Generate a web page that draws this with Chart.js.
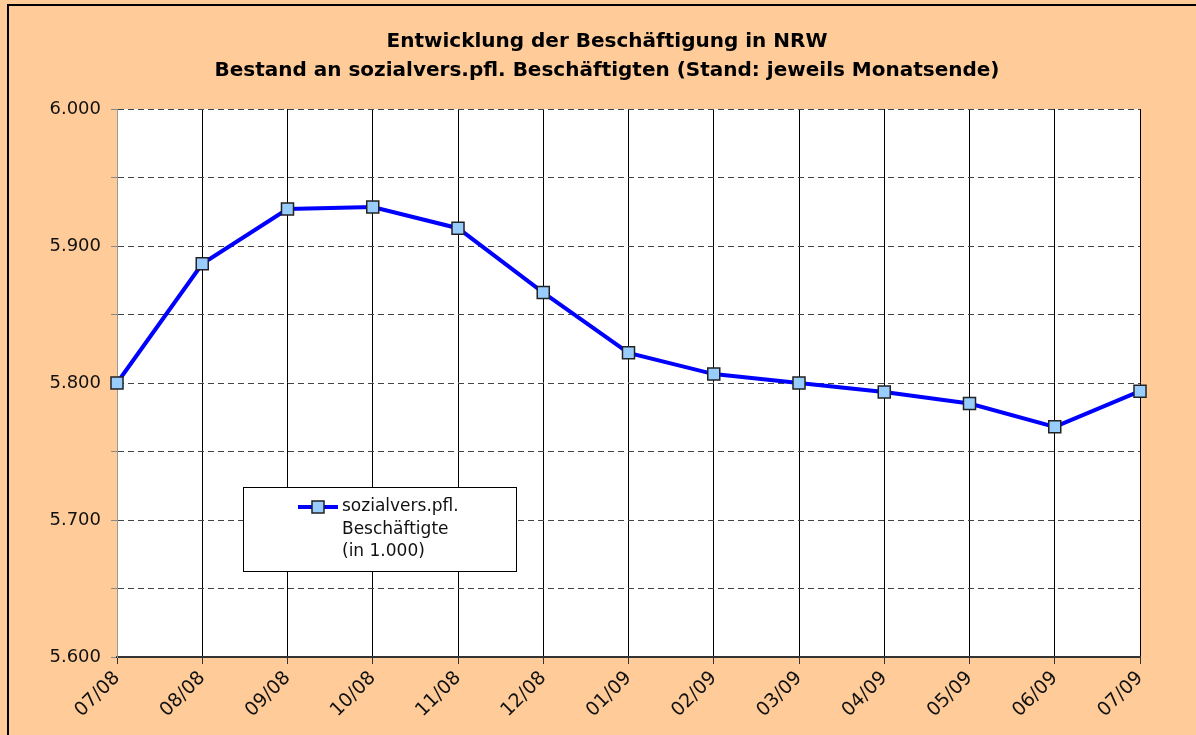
<!DOCTYPE html>
<html>
<head>
<meta charset="utf-8">
<script src="https://cdn.jsdelivr.net/npm/chart.js@4"></script>
<style>
  html, body { margin: 0; padding: 0; background: #FFCC99; }
  #wrap { width: 1196px; height: 735px; }
</style>
</head>
<body>
<div id="wrap"><canvas id="chart" width="1196" height="735"></canvas></div>
<script>
// Monate (Stand jeweils Monatsende)
const monate = ["07/08", "08/08", "09/08", "10/08", "11/08", "12/08", "01/09", "02/09", "03/09", "04/09", "05/09", "06/09", "07/09"];
// sozialvers.pfl. Beschäftigte in 1.000
const beschaeftigte = [5800, 5887, 5927, 5928.5, 5913, 5866, 5822, 5806.5, 5800, 5793.5, 5785, 5768, 5794];
const titelZeilen = ["Entwicklung der Beschäftigung in NRW", "Bestand an sozialvers.pfl. Beschäftigten (Stand: jeweils Monatsende)"];
const legendeZeilen = ["sozialvers.pfl.", "Beschäftigte", "(in 1.000)"];

const schrift = "'DejaVu Sans', sans-serif";

// Hintergrund + Rahmen
const hintergrund = {
    id: 'hintergrund',
    beforeDraw(chart) {
        const { ctx, chartArea: a } = chart;
        ctx.save();
        ctx.fillStyle = '#FFCC99';
        ctx.fillRect(0, 0, chart.width, chart.height);
        ctx.strokeStyle = '#000';
        ctx.lineWidth = 2;
        ctx.strokeRect(8, 5, chart.width + 20, chart.height + 20);
        ctx.fillStyle = '#fff';
        ctx.fillRect(a.left, a.top, a.right - a.left, a.bottom - a.top);
        ctx.restore();
    }
};

// Legende als Kasten im Diagramm
const legendeKasten = {
    id: 'legendeKasten',
    afterDraw(chart) {
        const { ctx, chartArea: a } = chart;
        const ds = chart.data.datasets[0];
        const x = a.left + 126, y = a.top + 378, w = 273, h = 84;
        ctx.save();
        ctx.fillStyle = '#fff';
        ctx.fillRect(x, y, w, h);
        ctx.strokeStyle = '#000';
        ctx.lineWidth = 1;
        ctx.strokeRect(x + 0.5, y + 0.5, w, h);
        // Linie + Marker
        ctx.strokeStyle = ds.borderColor;
        ctx.lineWidth = ds.borderWidth;
        ctx.beginPath();
        ctx.moveTo(x + 55, y + 20);
        ctx.lineTo(x + 95, y + 20);
        ctx.stroke();
        ctx.fillStyle = ds.pointBackgroundColor;
        ctx.strokeStyle = ds.pointBorderColor;
        ctx.lineWidth = 1.5;
        ctx.fillRect(x + 69, y + 14, 12, 12);
        ctx.strokeRect(x + 69, y + 14, 12, 12);
        ctx.fillStyle = '#111';
        ctx.font = "17px " + schrift;
        ctx.textBaseline = 'middle';
        legendeZeilen.forEach((t, i) => ctx.fillText(t, x + 99, y + 20 + i * 22.5));
        ctx.restore();
    }
};

const ctx = document.getElementById('chart').getContext('2d');
new Chart(ctx, {
    type: 'line',
    data: {
        labels: monate,
        datasets: [{
            label: legendeZeilen.join(' '),
            data: beschaeftigte,
            borderColor: '#0000FF',
            borderWidth: 4,
            pointStyle: 'rect',
            pointRadius: 8.5,
            pointBackgroundColor: '#99CCFF',
            pointBorderColor: '#222',
            pointBorderWidth: 1.5,
            tension: 0,
            clip: false
        }]
    },
    options: {
        responsive: false,
        animation: false,
        layout: { padding: { left: 18, right: 0, top: 0, bottom: 0 } },
        plugins: {
            legend: { display: false },
            tooltip: { enabled: false },
            title: {
                display: true,
                text: titelZeilen,
                color: '#000',
                font: { family: schrift, size: 20, weight: 'bold', lineHeight: 1.45 },
                padding: { top: 27, bottom: 24 }
            }
        },
        scales: {
            x: {
                offset: false,
                grid: { color: '#000', lineWidth: 1, tickLength: 7, tickColor: '#333' },
                border: { color: '#333', width: 2 },
                ticks: {
                    color: '#111',
                    font: { family: schrift, size: 19 },
                    maxRotation: 45, minRotation: 45,
                    autoSkip: false,
                    padding: 3
                },
                afterFit: (s) => { s.height = 78; }
            },
            y: {
                min: 5600, max: 6000,
                grid: { color: '#444', lineWidth: 1, tickLength: 6, tickColor: '#888', tickBorderDash: [] },
                border: { color: '#999', width: 1, dash: [6, 4] },
                ticks: {
                    stepSize: 50,
                    color: '#111',
                    font: { family: schrift, size: 18 },
                    padding: 10,
                    callback: (v) => v % 100 === 0 ? (v / 1000).toFixed(3) : ''
                },
                afterFit: (s) => { s.width = 99; }
            },
            // leere rechte Achse als Randabstand
            yRand: {
                position: 'right',
                min: 5600, max: 6000,
                grid: { display: false },
                border: { display: false },
                ticks: { display: false },
                afterFit: (s) => { s.width = 56; }
            }
        }
    },
    plugins: [hintergrund, legendeKasten]
});
</script>
</body>
</html>
